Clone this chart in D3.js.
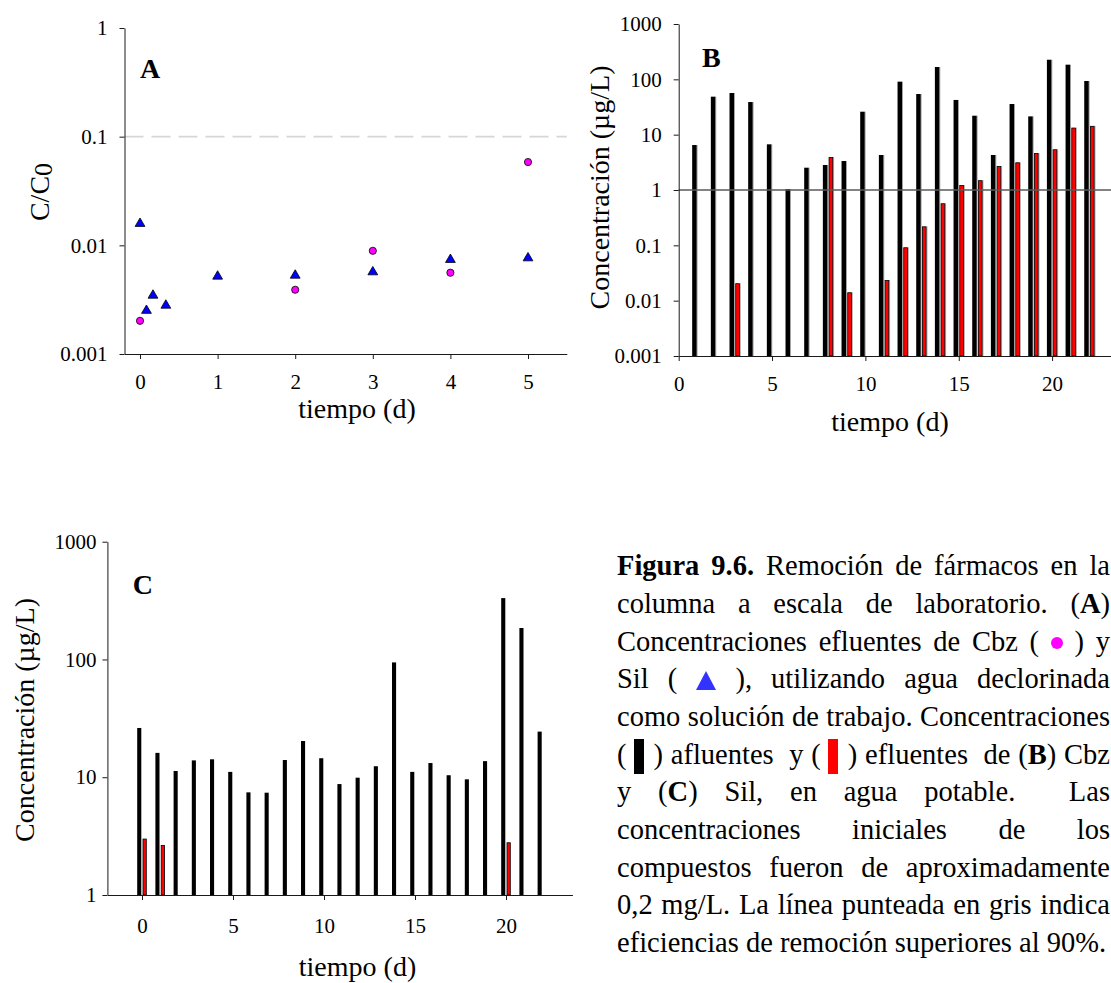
<!DOCTYPE html>
<html><head><meta charset="utf-8">
<script src="https://cdn.jsdelivr.net/npm/d3@7"></script>
<style>
body{margin:0;background:#fff;width:1111px;height:983px;overflow:hidden;position:relative;font-family:"Liberation Serif","Times New Roman",serif;}
svg{position:absolute;left:0;top:0;}
.cap{position:absolute;left:617px;width:493px;font-size:28.5px;line-height:37.7px;height:37.7px;text-align:justify;text-align-last:justify;color:#000;white-space:normal;}
.cap.last{text-align-last:left;}
</style></head><body>
<script>
// ---------------- DATA ----------------
// Panel A : C/C0 vs tiempo (d)
const daysA_Cbz = [0, 2, 3, 4, 5];
const cbzA      = [0.00202, 0.0039, 0.0089, 0.0056, 0.0584];
const daysA_Sil = [0, 0.083, 0.167, 0.333, 1, 2, 3, 4, 5];
const silA      = [0.0163, 0.00258, 0.00356, 0.00288, 0.00533, 0.00544, 0.00584, 0.00759, 0.00785];
const xTicksA = [0, 1, 2, 3, 4, 5];
const yTicksA = [0.001, 0.01, 0.1, 1];
const yTickLabelsA = ["0.001", "0.01", "0.1", "1"];
const thresholdA = 0.1;

// Panel B : Cbz, agua potable
const daysB  = [1, 2, 3, 4, 5, 6, 7, 8, 9, 10, 11, 12, 13, 14, 15, 16, 17, 18, 19, 20, 21, 22];
const afluB  = [6.5, 48.6, 56.6, 38.9, 6.69, 1.04, 2.53, 2.83, 3.34, 26.0, 4.29, 90.8, 54.3, 167, 42.4, 22.0, 4.29, 35.8, 21.4, 226, 184, 93.3];
const efluB  = [null, null, 0.0206, null, null, null, null, 3.95, 0.01415, null, 0.0236, 0.092, 0.220, 0.574, 1.23, 1.50, 2.71, 3.16, 4.66, 5.43, 13.4, 14.4];
const xTicksB = [0, 5, 10, 15, 20];
const yTicksB = [0.001, 0.01, 0.1, 1, 10, 100, 1000];
const yTickLabelsB = ["0.001", "0.01", "0.1", "1", "10", "100", "1000"];
const refLineB = 1;

// Panel C : Sil, agua potable
const daysC  = [0, 1, 2, 3, 4, 5, 6, 7, 8, 9, 10, 11, 12, 13, 14, 15, 16, 17, 18, 19, 20, 21, 22];
const afluC  = [26.2, 16.1, 11.3, 13.9, 14.2, 11.1, 7.44, 7.39, 14.0, 20.3, 14.5, 8.75, 9.91, 12.4, 94.4, 11.1, 13.2, 10.4, 9.6, 13.7, 332, 185, 24.4];
const efluC  = [3.01, 2.66, null, null, null, null, null, null, null, null, null, null, null, null, null, null, null, null, null, null, 2.80, null, null];
const xTicksC = [0, 5, 10, 15, 20];
const yTicksC = [1, 10, 100, 1000];
const yTickLabelsC = ["1", "10", "100", "1000"];

// Caption
const captionLines = [
  [["b", "Figura 9.6."], ["t", " Remoción de fármacos en la"]],
  [["t", "columna a escala de laboratorio. ("], ["b", "A"], ["t", ")"]],
  [["t", "Concentraciones efluentes de Cbz ( "], ["dot"], ["t", " ) y"]],
  [["t", "Sil ( "], ["tri"], ["t", " ), utilizando agua declorinada"]],
  [["t", "como solución de trabajo. Concentraciones"]],
  [["t", "("], ["kbar"], ["t", ") afluentes\u00a0 y ("], ["rbar"], ["t", ") efluentes\u00a0 de ("], ["b", "B"], ["t", ") Cbz"]],
  [["t", "y ("], ["b", "C"], ["t", ") Sil, en agua potable.\u00a0 Las"]],
  [["t", "concentraciones iniciales de los"]],
  [["t", "compuestos fueron de aproximadamente"]],
  [["t", "0,2 mg/L. La línea punteada en gris indica"]],
  [["t", "eficiencias de remoción superiores al 90%."]]
];

// ---------------- DRAWING ----------------
const FONT = '"Liberation Serif","Times New Roman",serif';
const AX = '#1a1a1a';
const svg = d3.select('body').append('svg').attr('width', 1111).attr('height', 983);

function styleAxis(g) {
  g.attr('font-family', FONT).attr('font-size', 21);
  g.select('.domain').attr('stroke', AX).attr('stroke-width', 1);
  g.selectAll('.tick line').attr('stroke', AX);
  g.selectAll('.tick text').attr('fill', '#000');
}
function xAxis(scale, ticks, yPos, labY) {
  const g = svg.append('g').attr('transform', `translate(0,${yPos})`)
    .call(d3.axisBottom(scale).tickValues(ticks).tickFormat(d => String(d)).tickSize(5).tickSizeOuter(0));
  styleAxis(g);
  g.selectAll('.tick text').attr('y', labY).attr('dy', 0);
  return g;
}
function yAxis(scale, ticks, labels, xPos, pad) {
  const g = svg.append('g').attr('transform', `translate(${xPos},0)`)
    .call(d3.axisLeft(scale).tickValues(ticks).tickFormat((d, i) => labels[i]).tickSize(5).tickPadding(pad).tickSizeOuter(0));
  styleAxis(g);
  return g;
}
function title(x, y, txt, rot) {
  return svg.append('text').attr('transform', `translate(${x},${y})` + (rot ? ' rotate(-90)' : ''))
    .attr('text-anchor', 'middle').attr('font-family', FONT).attr('font-size', 28).text(txt);
}
function letter(x, y, txt) {
  svg.append('text').attr('x', x).attr('y', y).attr('font-family', FONT).attr('font-size', 28)
    .attr('font-weight', 'bold').text(txt);
}

// ----- Panel A -----
const xA = d3.scaleLinear().domain([-0.2, 5.5]).range([124.5, 566.8]);
const yA = d3.scaleLog().domain([0.001, 1]).range([354, 28]);
svg.append('line').attr('x1', xA(-0.2)).attr('x2', xA(5.5)).attr('y1', yA(thresholdA)).attr('y2', yA(thresholdA))
  .attr('stroke', '#d6d6d6').attr('stroke-width', 1.6).attr('stroke-dasharray', '19,8');
xAxis(xA, xTicksA, 354, 35);
yAxis(yA, yTicksA, yTickLabelsA, xA(-0.2), 12);
const triPath = 'M0,-4.3L4.9,4.1L-4.9,4.1Z';
svg.append('g').selectAll('path').data(daysA_Sil).join('path')
  .attr('d', triPath)
  .attr('transform', (d, i) => `translate(${xA(d)},${yA(silA[i])})`)
  .attr('fill', '#0000ff').attr('stroke', '#000').attr('stroke-width', 0.8);
svg.append('g').selectAll('circle').data(daysA_Cbz).join('circle')
  .attr('cx', d => xA(d)).attr('cy', (d, i) => yA(cbzA[i])).attr('r', 3.6)
  .attr('fill', '#ff00ff').attr('stroke', '#000').attr('stroke-width', 0.8);
const tA = svg.append('text').attr('transform', 'translate(49,192) rotate(-90)')
  .attr('text-anchor', 'middle').attr('font-family', FONT).attr('font-size', 28);
tA.append('tspan').text('C/C');
tA.append('tspan').attr('dy', 3).attr('font-size', 26).text('0');
title(357, 418, 'tiempo (d)');
letter(140, 78, 'A');

// ----- bars helper -----
function bars(xs, ys, days, afl, efl, bw, shadow) {
  const base = ys.range()[0];
  const g = svg.append('g');
  const dA = days.map((d, i) => ({ d, v: afl[i] })).filter(o => o.v != null);
  const dE = days.map((d, i) => ({ d, v: efl[i] })).filter(o => o.v != null);
  if (shadow) {
    g.selectAll('rect.sa').data(dA).join('rect').attr('class', 'sa')
      .attr('x', o => xs(o.d) - 0.7).attr('width', 0.9)
      .attr('y', o => ys(o.v)).attr('height', o => base - ys(o.v)).attr('fill', '#a0a0a0');
    g.selectAll('rect.se').data(dE).join('rect').attr('class', 'se')
      .attr('x', o => xs(o.d) + 0.6 + bw).attr('width', 0.9)
      .attr('y', o => ys(o.v)).attr('height', o => base - ys(o.v)).attr('fill', '#a0a0a0');
  }
  g.selectAll('rect.a').data(dA).join('rect').attr('class', 'a')
    .attr('x', o => xs(o.d) - 0.7 - bw).attr('width', bw)
    .attr('y', o => ys(o.v)).attr('height', o => base - ys(o.v)).attr('fill', '#000');
  g.selectAll('rect.e').data(dE).join('rect').attr('class', 'e')
    .attr('x', o => xs(o.d) + 0.6 + 0.4).attr('width', bw - 0.8)
    .attr('y', o => ys(o.v) + 0.4).attr('height', o => base - ys(o.v) - 0.4)
    .attr('fill', '#ff0000').attr('stroke', '#000').attr('stroke-width', 0.8);
}

// ----- Panel B -----
const xB = d3.scaleLinear().domain([0, 24]).range([678.7, 678.7 + 24 * 18.67]);
const yB = d3.scaleLog().domain([0.001, 1000]).range([356, 24]);
bars(xB, yB, daysB, afluB, efluB, 4.5, true);
svg.append('line').attr('x1', xB(0)).attr('x2', xB(24)).attr('y1', yB(refLineB)).attr('y2', yB(refLineB))
  .attr('stroke', '#5a5a5a').attr('stroke-width', 1.4);
xAxis(xB, xTicksB, 356, 35);
yAxis(yB, yTicksB, yTickLabelsB, xB(0), 12);
title(609, 187.5, 'Concentración (µg/L)', true);
title(890, 431, 'tiempo (d)');
letter(702, 66.7, 'B');

// ----- Panel C -----
const xC = d3.scaleLinear().domain([-1.9, 23.65]).range([142 - 1.9 * 18.2, 142 + 23.65 * 18.2]);
const yC = d3.scaleLog().domain([1, 1000]).range([895, 541.7]);
bars(xC, yC, daysC, afluC, efluC, 4.1, false);
xAxis(xC, xTicksC, 895, 38);
yAxis(yC, yTicksC, yTickLabelsC, xC(-1.9), 6);
title(34, 720, 'Concentración (µg/L)', true);
title(357.5, 976, 'tiempo (d)');
letter(132.7, 594, 'C');

// ----- Caption -----
const firstBaseline = 576, lineGap = 37.7, baseOffset = 28.9;
captionLines.forEach((segs, i) => {
  const div = d3.select('body').append('div')
    .attr('class', 'cap' + (i === captionLines.length - 1 ? ' last' : ''))
    .style('top', (firstBaseline + i * lineGap - baseOffset) + 'px');
  segs.forEach(s => {
    const k = s[0];
    if (k === 't') div.append('span').text(s[1]);
    else if (k === 'b') div.append('span').style('font-weight', 'bold').text(s[1]);
    else if (k === 'dot') div.append('span').style('display', 'inline-block').style('width', '12px').style('height', '12px')
      .style('border-radius', '50%').style('background', '#ff00ff').style('vertical-align', '2px');
    else if (k === 'tri') {
      const t = div.append('svg').style('display', 'inline-block').style('position', 'static')
        .attr('width', 20).attr('height', 19).style('vertical-align', '-2px');
      t.append('polygon').attr('points', '10,0 20,19 0,19').attr('fill', '#3333ff');
    }
    else if (k === 'kbar' || k === 'rbar') div.append('span').style('display', 'inline-block')
      .style('width', '10px').style('height', '35px').style('margin', '0 10px 0 7px')
      .style('background', k === 'kbar' ? '#000' : '#ff0000').style('vertical-align', '-10px');
  });
});
</script></body></html>
